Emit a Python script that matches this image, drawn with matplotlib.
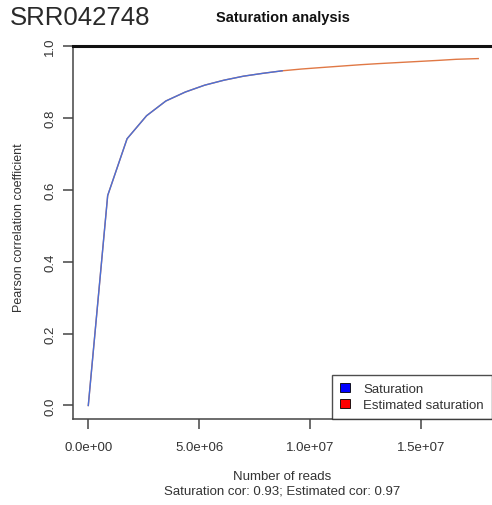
import matplotlib
matplotlib.use("Agg")
import matplotlib.pyplot as plt
from matplotlib.patches import Patch

plt.rcParams["font.family"] = ["Liberation Sans", "DejaVu Sans"]

# observed saturation curve (reads, correlation)
sat_reads = [0, 0.875e6, 1.75e6, 2.63e6, 3.5e6, 4.38e6, 5.25e6, 6.13e6, 7.0e6, 7.88e6, 8.75e6]
sat_cor = [0.0, 0.584, 0.742, 0.806, 0.847, 0.872, 0.891, 0.905, 0.916, 0.924, 0.931]

# estimated saturation, extends to twice the reads
est_reads = sat_reads + [9.63e6, 10.5e6, 11.4e6, 12.3e6, 13.1e6, 14.0e6, 14.9e6, 15.8e6, 16.6e6, 17.6e6]
est_cor = sat_cor + [0.936, 0.940, 0.944, 0.948, 0.951, 0.954, 0.957, 0.960, 0.963, 0.965]

x_ticks = [0, 5e6, 1e7, 1.5e7]
x_tick_labels = ["0.0e+00", "5.0e+06", "1.0e+07", "1.5e+07"]
y_ticks = [0.0, 0.2, 0.4, 0.6, 0.8, 1.0]

txt = "#333333"
fig = plt.figure(figsize=(4.92, 5.06), dpi=100)
ax = fig.add_axes([73 / 492, 86 / 506, 1 - 73 / 492, (420 - 47) / 506])

ax.plot(est_reads, est_cor, color="#e07845", lw=1.0)
ax.plot(sat_reads, sat_cor, color="#4a70d8", lw=1.0)

ax.set_xlim(-0.69e6, 18.22e6)
ax.set_ylim(-0.0376, 1.0)

ax.spines["right"].set_visible(False)
ax.spines["top"].set_linewidth(2.2)
ax.spines["top"].set_color("#111111")
for s in ("left", "bottom"):
    ax.spines[s].set_color("#444444")
    ax.spines[s].set_linewidth(1.1)

ax.set_xticks(x_ticks)
ax.set_xticklabels(x_tick_labels)
ax.set_yticks(y_ticks)
ax.set_yticklabels(["%.1f" % v for v in y_ticks], rotation=90, va="center")
ax.tick_params(direction="out", length=7, width=1.1, color="#444444",
               labelsize=9.5, labelcolor=txt)
ax.tick_params(axis="x", pad=9)
ax.tick_params(axis="y", pad=5)

ax.set_ylabel("Pearson correlation coefficient", fontsize=9, color=txt)
ax.yaxis.set_label_coords(-48 / 419, 0.517)
fig.text(282 / 492, 1 - 477 / 506, "Number of reads", ha="center", va="center",
         fontsize=9.5, color=txt)
fig.text(282 / 492, 1 - 492 / 506, "Saturation cor: 0.93; Estimated cor: 0.97",
         ha="center", va="center", fontsize=9.5, color=txt)

fig.text(10 / 492, 1 - 18 / 506, "SRR042748", ha="left", va="center",
         fontsize=18.5, color="#2a2a2a")
fig.text(283 / 492, 1 - 18 / 506, "Saturation analysis", ha="center", va="center",
         fontsize=10.5, fontweight="bold", color="#111111")

handles = [Patch(facecolor="#0000ff", edgecolor="black", lw=0.6, label="Saturation"),
           Patch(facecolor="#ff0000", edgecolor="black", lw=0.6, label="Estimated saturation")]
leg = ax.legend(handles=handles, loc="lower right", fontsize=9.5, frameon=True,
                fancybox=False, borderaxespad=0, handlelength=0.75, handleheight=0.7,
                handletextpad=1.0, borderpad=0.6, labelspacing=0.3)
leg.get_frame().set_edgecolor("#222222")
leg.get_frame().set_linewidth(1.0)
for t in leg.get_texts():
    t.set_color(txt)

fig.savefig("out.png", dpi=100)
